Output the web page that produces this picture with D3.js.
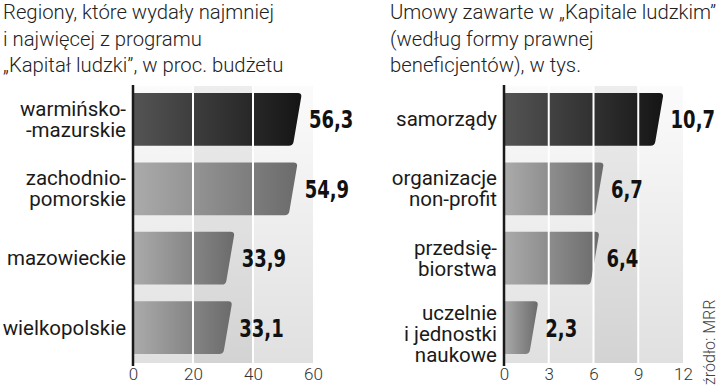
<!DOCTYPE html>
<html><head><meta charset="utf-8">
<script src="https://cdn.jsdelivr.net/npm/d3@7/dist/d3.min.js"></script>
<style>body{margin:0;background:#fff}svg{display:block}</style>
</head><body>
<svg id="c" width="720" height="390"></svg>
<script>
// ---- data ----
const leftTitle = ["Regiony, które wydały najmniej", "i najwięcej z programu", "„Kapitał ludzki”, w proc. budżetu"];
const leftCategories = [["warmińsko-", "-mazurskie"], ["zachodnio-", "pomorskie"], ["mazowieckie"], ["wielkopolskie"]];
const leftValues = [56.3, 54.9, 33.9, 33.1];
const leftTicks = [0, 20, 40, 60];

const rightTitle = ["Umowy zawarte w „Kapitale ludzkim”", "(według formy prawnej", "beneficjentów), w tys."];
const rightCategories = [["samorządy"], ["organizacje", "non-profit"], ["przedsię-", "biorstwa"], ["uczelnie", "i jednostki", "naukowe"]];
const rightValues = [10.7, 6.7, 6.4, 2.3];
const rightTicks = [0, 3, 6, 9, 12];

const sourceText = "źródło: MRR";

// ---- drawing ----
const svg = d3.select("#c");
const defs = svg.append("defs");
const mkGrad = (id, stops, x2, y2) => {
  const g = defs.append("linearGradient").attr("id", id)
    .attr("x1", 0).attr("y1", 0).attr("x2", x2).attr("y2", y2);
  stops.forEach(s => g.append("stop").attr("offset", s[0]).attr("stop-color", s[1]));
};
mkGrad("gDark", [[0, "#545454"], [1, "#151515"]], 1, 0);
mkGrad("gLight", [[0, "#ababab"], [1, "#6b6b6b"]], 1, 0);
mkGrad("gPanel", [[0, "#fbfbfb"], [1, "#e0e0e0"]], 0, 1);

const fmt = v => d3.format(".1f")(v).replace(".", ",");
const TEXT = "Roboto, 'Noto Sans', sans-serif";
const BOLD = "'DejaVu Sans Condensed', 'DejaVu Sans', sans-serif";

function chart(o) {
  const g = svg.append("g");
  // title
  g.append("text").attr("font-family", TEXT).attr("font-weight", 300)
    .attr("font-size", 20.3).attr("fill", "#222")
    .selectAll("tspan").data(o.title).join("tspan")
    .attr("x", o.tx).attr("y", (d, i) => 19 + i * 26.5).text(d => d);

  const x = d3.scaleLinear().domain([0, d3.max(o.ticks)]).range([o.x0, o.x1]);
  const y = d3.scaleBand().domain(d3.range(o.values.length)).range([86, 361])
    .paddingInner(0.24).paddingOuter(0.1);
  const panelTop = 86, panelBot = 363;

  // panel
  g.append("rect").attr("x", x(0)).attr("y", panelTop)
    .attr("width", x(d3.max(o.ticks)) - x(0)).attr("height", panelBot - panelTop)
    .attr("fill", "url(#gPanel)");
  const cols = d3.pairs(o.ticks);
  g.selectAll(".col").data(cols).join("rect")
    .attr("x", d => x(d[0])).attr("y", panelTop)
    .attr("width", d => x(d[1]) - x(d[0])).attr("height", panelBot - panelTop)
    .attr("fill", "#000").attr("opacity", (d, i) => i === o.darkCol ? 0.055 : 0);

  // bars
  const h = y.bandwidth(), slant = 9, r = 4;
  const barPath = (v, i) => {
    const x0 = x(0), x1 = x(v), y0 = y(i), y1 = y0 + h;
    const L = Math.hypot(slant, h), ux = -slant / L, uy = h / L;
    return `M${x0},${y0}H${x1 - r}Q${x1},${y0} ${x1 + ux * r},${y0 + uy * r}` +
      `L${x1 - slant - ux * r},${y1 - uy * r}Q${x1 - slant},${y1} ${x1 - slant - r},${y1}H${x0}Z`;
  };
  g.selectAll(".bar").data(o.values).join("path")
    .attr("d", (v, i) => barPath(v, i))
    .attr("fill", (v, i) => i === 0 ? "url(#gDark)" : "url(#gLight)");

  // white gridlines
  g.selectAll(".grid").data(o.ticks.slice(1, -1)).join("line")
    .attr("x1", d => x(d)).attr("x2", d => x(d))
    .attr("y1", panelTop).attr("y2", panelBot)
    .attr("stroke", "#fff").attr("stroke-width", 2);

  // axis
  const ax = g.append("g").attr("transform", `translate(0,${panelBot})`)
    .call(d3.axisBottom(x).tickValues(o.ticks).tickSize(0).tickPadding(0).tickFormat(d3.format("d")));
  ax.select(".domain").remove();
  ax.selectAll("text").attr("font-family", TEXT).attr("font-weight", 300)
    .attr("font-size", 17).attr("fill", "#333").attr("dy", null).attr("y", 17);
  g.append("line").attr("x1", x(0)).attr("x2", x(0)).attr("y1", 85).attr("y2", 366)
    .attr("stroke", "#1a1a1a").attr("stroke-width", 2.5);

  // value labels (condensed bold, horizontally squeezed)
  g.selectAll(".val").data(o.values).join("text")
    .attr("transform", (v, i) => `translate(${x(v) + 7},${y(i) + h / 2 + 9}) scale(0.8,1)`)
    .attr("font-family", BOLD).attr("font-weight", 700)
    .attr("font-size", 25).attr("fill", "#111")
    .text(fmt);

  // category labels
  g.selectAll(".cat").data(o.cats).join("text")
    .attr("font-family", TEXT).attr("font-size", 20.5).attr("fill", "#1a1a1a")
    .attr("text-anchor", "end")
    .each(function (lines, i) {
      const c = y(i) + h / 2;
      const n = lines.length;
      const first = c + 7 - (n - 1) * 10.5 + (n > 2 ? 6 : 0);
      d3.select(this).selectAll("tspan").data(lines).join("tspan")
        .attr("x", x(0) - 7).attr("y", (d, k) => first + k * 21).text(d => d);
    });
}

chart({ title: leftTitle, tx: 3, cats: leftCategories, values: leftValues, ticks: leftTicks, x0: 133, x1: 313, darkCol: 1 });
chart({ title: rightTitle, tx: 390, cats: rightCategories, values: rightValues, ticks: rightTicks, x0: 504, x1: 683, darkCol: 2 });

svg.append("text").attr("transform", "translate(715,385) rotate(-90)")
  .attr("font-family", TEXT).attr("font-weight", 300).attr("font-size", 16).attr("fill", "#444")
  .text(sourceText);
</script>
</body></html>
